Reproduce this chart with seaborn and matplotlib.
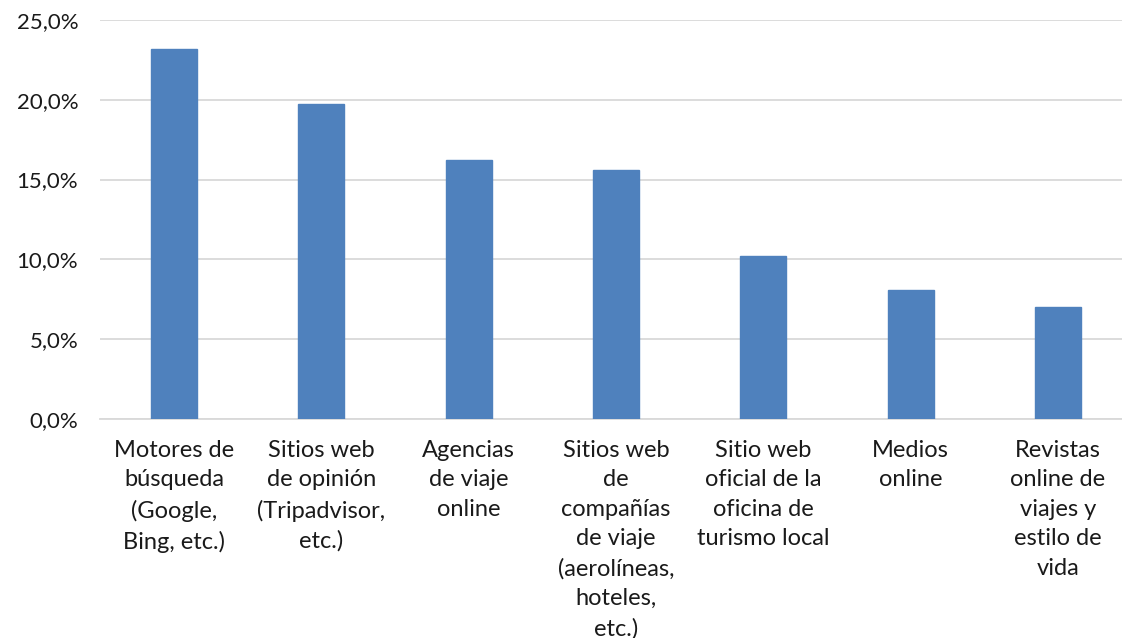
import matplotlib
matplotlib.use("Agg")
import matplotlib.pyplot as plt
import seaborn as sns
import pandas as pd
from matplotlib.ticker import FuncFormatter, MultipleLocator

categories = [
    "Motores de\nbúsqueda\n(Google,\nBing, etc.)",
    "Sitios web\nde opinión\n(Tripadvisor,\netc.)",
    "Agencias\nde viaje\nonline",
    "Sitios web\nde\ncompañías\nde viaje\n(aerolíneas,\nhoteles,\netc.)",
    "Sitio web\noficial de la\noficina de\nturismo local",
    "Medios\nonline",
    "Revistas\nonline de\nviajes y\nestilo de\nvida",
]
values = [23.2, 19.7, 16.2, 15.6, 10.2, 8.1, 7.0]

sns.set_theme(style="white")
plt.rcParams['font.family'] = ['Lato', 'DejaVu Sans']

df = pd.DataFrame({"cat": categories, "val": values})

fig = plt.figure(figsize=(11.22, 6.38), dpi=100)
ax = fig.add_axes([0.0895, 0.343, 0.919, 0.626])
sns.barplot(data=df, x="cat", y="val", color="#4F81BD", width=0.312, ax=ax,
            saturation=1, edgecolor="#4F81BD", zorder=3)

ax.set_ylim(0, 25)
ax.yaxis.set_major_locator(MultipleLocator(5))
ax.yaxis.set_major_formatter(FuncFormatter(lambda v, p: f"{v:.1f}%".replace(".", ",")))
ax.grid(axis="y", color="#D9D9D9", linewidth=1.3, zorder=0)
ax.set_axisbelow(True)
for s in ["top", "right", "left"]:
    ax.spines[s].set_visible(False)
ax.spines["bottom"].set_color("#D9D9D9")
ax.spines["bottom"].set_linewidth(1.3)
ax.set_xlabel("")
ax.set_ylabel("")
ax.tick_params(axis="both", length=0, colors="#1a1a1a")
ax.tick_params(axis="x", pad=15, labelsize=17)
ax.tick_params(axis="y", pad=16, labelsize=16)
for lbl in ax.get_xticklabels():
    lbl.set_linespacing(1.5)
ax.set_xlim(-0.5, 6.5)

fig.savefig("out.png", dpi=100)
